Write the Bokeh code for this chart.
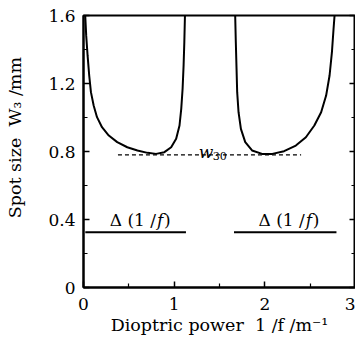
import numpy as np
from bokeh.plotting import figure
from bokeh.models import FixedTicker, CustomJSTickFormatter, LinearAxis, Label, Range1d
from bokeh.embed import file_html
from bokeh.resources import INLINE

# ---- data ----
left_x = [0.019, 0.030, 0.045, 0.063, 0.082, 0.112, 0.149, 0.204, 0.279, 0.372, 0.483, 0.595,
          0.706, 0.800, 0.892, 0.967, 1.022, 1.059, 1.078, 1.093, 1.104, 1.112, 1.119]
left_y = [1.600, 1.480, 1.365, 1.247, 1.149, 1.071, 1.002, 0.943, 0.894, 0.855, 0.825, 0.806,
          0.792, 0.786, 0.796, 0.825, 0.875, 0.953, 1.051, 1.169, 1.306, 1.443, 1.600]

right_x = [1.673, 1.680, 1.688, 1.695, 1.710, 1.736, 1.784, 1.859, 1.970, 2.082, 2.212, 2.342,
           2.453, 2.546, 2.621, 2.676, 2.714, 2.740, 2.758, 2.769]
right_y = [1.600, 1.443, 1.286, 1.149, 1.031, 0.933, 0.855, 0.806, 0.786, 0.786, 0.802, 0.835,
           0.884, 0.953, 1.031, 1.129, 1.247, 1.384, 1.522, 1.600]

w30_x = [0.38, 2.40]
w30_y = [0.78, 0.78]

delta_left_x = [0.02, 1.13]
delta_right_x = [1.66, 2.79]
delta_y = [0.325, 0.325]

x_ticks = [0, 1, 2, 3]
x_minor = [0.5, 1.5, 2.5]
y_ticks = [0, 0.4, 0.8, 1.2, 1.6]
y_minor = [0.2, 0.6, 1.0, 1.4]

NB = "\u00a0"
x_title = "Dioptric power" + NB * 2 + "1" + NB + "/f" + NB + "/m⁻¹"
y_title = NB * 5 + "Spot" + NB + "size" + NB * 2 + "W₃" + NB + "/mm"

FONT = "DejaVu Serif"

p = figure(width=355, height=340, x_range=Range1d(0, 3), y_range=Range1d(0, 1.6),
           output_backend="svg", toolbar_location=None,
           min_border_left=83, min_border_right=0, min_border_top=15, min_border_bottom=53)
p.grid.visible = False
p.outline_line_color = "black"
p.outline_line_width = 2
p.background_fill_color = "white"
p.border_fill_color = "white"

p.xaxis.ticker = FixedTicker(ticks=x_ticks, minor_ticks=x_minor)
p.yaxis.ticker = FixedTicker(ticks=y_ticks, minor_ticks=y_minor)
p.xaxis.formatter = CustomJSTickFormatter(code="return tick.toFixed(0);")
p.yaxis.formatter = CustomJSTickFormatter(code="return tick == 0 ? '0' : tick.toFixed(1);")

right_axis = LinearAxis(ticker=FixedTicker(ticks=y_ticks, minor_ticks=y_minor),
                        formatter=CustomJSTickFormatter(code="return '';"))
p.add_layout(right_axis, "right")

for ax in p.axis:
    ax.axis_line_width = 2
    ax.axis_line_color = "black"
    ax.major_tick_in = 6
    ax.major_tick_out = 0
    ax.minor_tick_in = 4
    ax.minor_tick_out = 0
    ax.major_tick_line_width = 1.5
    ax.minor_tick_line_width = 1.2
    ax.major_label_text_font = FONT
    ax.major_label_text_font_size = "17px"
    ax.major_label_text_color = "black"
    ax.axis_label_text_font = FONT
    ax.axis_label_text_font_size = "17.5px"
    ax.axis_label_text_font_style = "normal"
    ax.axis_label_text_color = "black"
right_axis.major_label_text_font_size = "0px"
right_axis.major_label_standoff = 0

p.xaxis[0].major_label_standoff = 10
p.yaxis[0].major_label_standoff = 8
p.xaxis[0].axis_label = x_title
p.yaxis[0].axis_label = y_title
p.xaxis[0].axis_label_standoff = 2
p.yaxis[0].axis_label_standoff = 20

# curves
p.line(left_x, left_y, line_color="black", line_width=2)
p.line(right_x, right_y, line_color="black", line_width=2)
p.line(w30_x, w30_y, line_color="black", line_width=1.2, line_dash="4 3")
p.line(delta_left_x, delta_y, line_color="black", line_width=2)
p.line(delta_right_x, delta_y, line_color="black", line_width=2)


def lab(text, x, y, xo=0, yo=0, size="17px", style="normal", align="left"):
    p.add_layout(Label(x=x, y=y, x_offset=xo, y_offset=yo, text=text, text_font=FONT,
                       text_font_size=size, text_font_style=style, text_align=align,
                       text_baseline="alphabetic", text_color="black"))


# w30 label
lab("w", 1.27, 0.80, style="italic")
lab("30", 1.27, 0.80, xo=14, yo=-4, size="11px")

# Delta(1/f) labels
for fx in (0.80, 2.44):
    lab("Δ" + NB + "(1" + NB + "/", fx, 0.40, align="right")
    lab("f", fx, 0.40, xo=1, style="italic")
    lab(")", fx, 0.40, xo=8)

open("out.html", "w").write(file_html(p, INLINE))
